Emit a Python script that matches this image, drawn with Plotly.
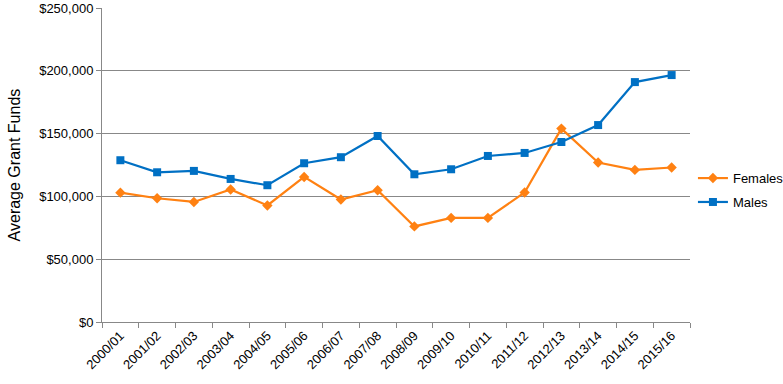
import plotly.graph_objects as go

years = ["2000/01", "2001/02", "2002/03", "2003/04", "2004/05", "2005/06", "2006/07", "2007/08",
         "2008/09", "2009/10", "2010/11", "2011/12", "2012/13", "2013/14", "2014/15", "2015/16"]
females = [103000, 98500, 95600, 105500, 92800, 115500, 97500, 104900,
           76100, 82900, 82900, 103100, 154000, 127000, 121100, 123000]
males = [128800, 119200, 120300, 113900, 108900, 126400, 131200, 148100,
         117600, 121600, 132200, 134600, 143300, 156800, 191000, 196600]
y_ticks = [0, 50000, 100000, 150000, 200000, 250000]
y_labels = ["$0", "$50,000", "$100,000", "$150,000", "$200,000", "$250,000"]

orange = "#FF8112"
blue = "#0070C4"

fig = go.Figure()
fig.add_trace(go.Scatter(x=years, y=females, name="Females", mode="lines+markers",
                         legendgroup="f",
                         line=dict(color=orange, width=2.2),
                         marker=dict(symbol="diamond", size=8, color=orange)))
fig.add_trace(go.Scatter(x=years, y=males, name="Males", mode="lines+markers",
                         legendgroup="m",
                         line=dict(color=blue, width=2.2),
                         marker=dict(symbol="square", size=8, color=blue)))

fig.update_layout(
    width=783, height=384,
    margin=dict(l=102, r=93, t=8, b=62, autoexpand=False),
    paper_bgcolor="white", plot_bgcolor="white",
    font=dict(family="Liberation Sans, Arial, sans-serif", size=12, color="#000000"),
    showlegend=True,
    legend=dict(x=1.005, y=0.42, xanchor="left", yanchor="middle",
                font=dict(size=13), itemwidth=30, tracegroupgap=4),
    xaxis=dict(type="category", tickangle=-45, showgrid=False, showline=True,
               linecolor="#888888", linewidth=1, ticks="outside", ticklen=5,
               tickcolor="#888888", tickson="boundaries", tickfont=dict(size=13),
               range=[-0.5, 15.5], automargin=False),
    yaxis=dict(range=[0, 250000], tickvals=y_ticks, ticktext=y_labels,
               showgrid=True, gridcolor="#888888", gridwidth=1,
               showline=True, linecolor="#888888", linewidth=1,
               ticks="outside", ticklen=5, tickcolor="#888888",
               zeroline=False, tickfont=dict(size=13), automargin=False),
    annotations=[dict(text="Average Grant Funds", x=-0.149, y=0.5, xref="paper", yref="paper",
                      xanchor="center", yanchor="middle", textangle=-90, showarrow=False,
                      font=dict(size=16))],
)

fig.write_html("out.html", post_script="document.body.style.margin='0';",
               config={"displayModeBar": False})
